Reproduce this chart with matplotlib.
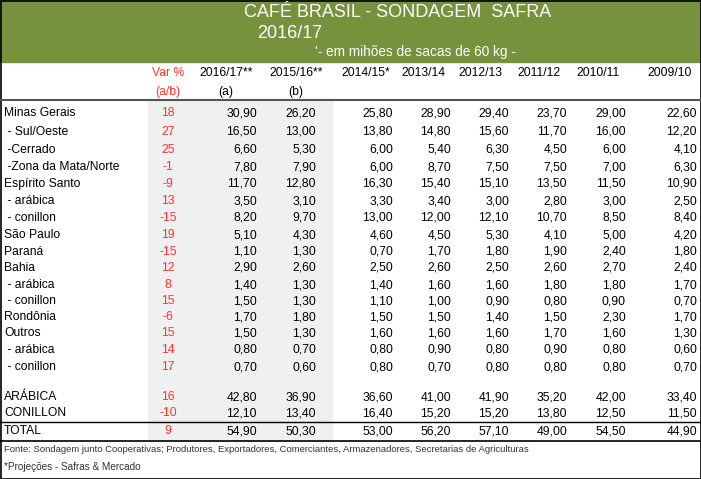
import matplotlib.pyplot as plt
from matplotlib.patches import Rectangle

plt.rcParams["font.family"] = "Liberation Sans"

W, H = 701, 479

rows = ["Minas Gerais", " - Sul/Oeste", " -Cerrado", " -Zona da Mata/Norte", "Espírito Santo",
        " - arábica", " - conillon", "São Paulo", "Paraná", "Bahia", " - arábica", " - conillon",
        "Rondônia", "Outros", " - arábica", " - conillon", "", "ARÁBICA", "CONILLON", "TOTAL"]
var_pct = ["18", "27", "25", "-1", "-9", "13", "-15", "19", "-15", "12", "8", "15",
           "-6", "15", "14", "17", "", "16", "-10", "9"]
seasons = ["2016/17**", "2015/16**", "2014/15*", "2013/14", "2012/13", "2011/12", "2010/11", "2009/10"]
values = [
    [30.90, 26.20, 25.80, 28.90, 29.40, 23.70, 29.00, 22.60],
    [16.50, 13.00, 13.80, 14.80, 15.60, 11.70, 16.00, 12.20],
    [6.60, 5.30, 6.00, 5.40, 6.30, 4.50, 6.00, 4.10],
    [7.80, 7.90, 6.00, 8.70, 7.50, 7.50, 7.00, 6.30],
    [11.70, 12.80, 16.30, 15.40, 15.10, 13.50, 11.50, 10.90],
    [3.50, 3.10, 3.30, 3.40, 3.00, 2.80, 3.00, 2.50],
    [8.20, 9.70, 13.00, 12.00, 12.10, 10.70, 8.50, 8.40],
    [5.10, 4.30, 4.60, 4.50, 5.30, 4.10, 5.00, 4.20],
    [1.10, 1.30, 0.70, 1.70, 1.80, 1.90, 2.40, 1.80],
    [2.90, 2.60, 2.50, 2.60, 2.50, 2.60, 2.70, 2.40],
    [1.40, 1.30, 1.40, 1.60, 1.60, 1.80, 1.80, 1.70],
    [1.50, 1.30, 1.10, 1.00, 0.90, 0.80, 0.90, 0.70],
    [1.70, 1.80, 1.50, 1.50, 1.40, 1.50, 2.30, 1.70],
    [1.50, 1.30, 1.60, 1.60, 1.60, 1.70, 1.60, 1.30],
    [0.80, 0.70, 0.80, 0.90, 0.80, 0.90, 0.80, 0.60],
    [0.70, 0.60, 0.80, 0.70, 0.80, 0.80, 0.80, 0.70],
    None,
    [42.80, 36.90, 36.60, 41.00, 41.90, 35.20, 42.00, 33.40],
    [12.10, 13.40, 16.40, 15.20, 15.20, 13.80, 12.50, 11.50],
    [54.90, 50.30, 53.00, 56.20, 57.10, 49.00, 54.50, 44.90],
]
row_y = [113, 132, 150, 167, 184, 201, 218, 235, 252, 268, 285, 301, 317, 333, 350, 367, 382, 397, 413, 431]

fig = plt.figure(figsize=(W / 100, H / 100), dpi=100)
ax = fig.add_axes([0, 0, 1, 1])
ax.set_xlim(0, W)
ax.set_ylim(H, 0)
ax.axis("off")

green = "#76923c"
red = "#ff3333"
fs = 8.7

ax.add_patch(Rectangle((0, 0), W, 62, color=green))
ax.add_patch(Rectangle((148, 100), 184, 341, color="#f0f0f0"))
ax.add_patch(Rectangle((0.5, 0.5), W - 1, H - 1, fill=False, ec="black", lw=1.2))

ax.text(398, 12, "CAFÉ BRASIL - SONDAGEM  SAFRA", color="white", fontsize=13, ha="center", va="center")
ax.text(290, 33, "2016/17", color="white", fontsize=13, ha="center", va="center")
ax.text(415, 52, "'- em mihões de sacas de 60 kg -", color="white", fontsize=9.8, ha="center", va="center")

ax.text(168, 73, "Var %", color=red, fontsize=fs, ha="center", va="center")
ax.text(168, 92, "(a/b)", color=red, fontsize=fs, ha="center", va="center")
head_x = [226, 296, 366, 423, 480, 539, 598, 670]
for s, x in zip(seasons, head_x):
    ax.text(x, 73, s, fontsize=fs, ha="center", va="center")
ax.text(226, 92, "(a)", fontsize=fs, ha="center", va="center")
ax.text(296, 92, "(b)", fontsize=fs, ha="center", va="center")

ax.plot([0, W], [100, 100], color="#555555", lw=1.5)
ax.plot([0, W], [422, 422], color="black", lw=1)
ax.plot([0, W], [441, 441], color="black", lw=1.2)

val_x = [257, 316, 393, 451, 509, 567, 626, 697]
for name, v, vals, y in zip(rows, var_pct, values, row_y):
    ax.text(4, y, name, fontsize=fs, ha="left", va="center")
    ax.text(168, y, v, color=red, fontsize=fs, ha="center", va="center")
    if vals:
        for val, x in zip(vals, val_x):
            ax.text(x, y, f"{val:.2f}".replace(".", ","), fontsize=fs, ha="right", va="center")

ax.text(4, 450, "Fonte: Sondagem junto Cooperativas; Produtores, Exportadores, Comerciantes, Armazenadores, Secretarias de Agriculturas",
        fontsize=6.8, ha="left", va="center", color="#333333")
ax.text(4, 467, "*Projeções - Safras & Mercado", fontsize=7.2, ha="left", va="center", color="#333333")

fig.savefig("out.png", dpi=100)
